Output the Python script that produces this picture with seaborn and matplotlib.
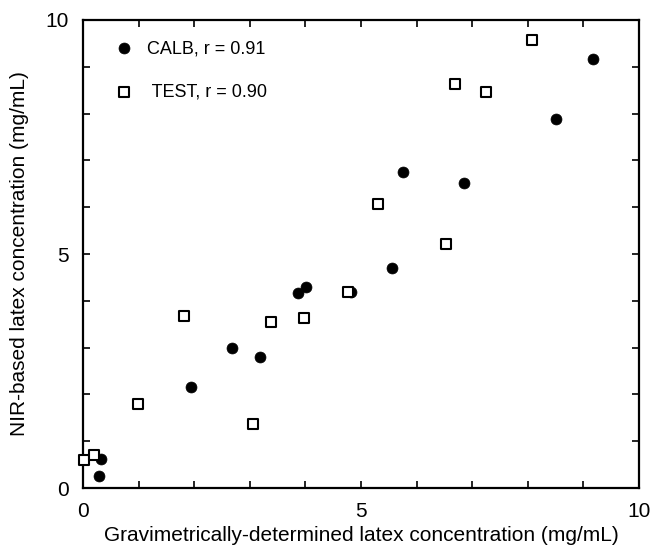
import matplotlib
matplotlib.use("Agg")
import matplotlib.pyplot as plt
import seaborn as sns
import pandas as pd

# CALB set (filled circles)
calb_x = [0.28, 0.32, 1.95, 2.68, 3.18, 3.87, 4.01, 4.82, 5.55, 5.76, 6.86, 8.50, 9.18]
calb_y = [0.26, 0.61, 2.16, 2.99, 2.79, 4.16, 4.30, 4.18, 4.70, 6.75, 6.52, 7.88, 9.16]

# TEST set (open squares)
test_x = [0.01, 0.20, 0.99, 1.82, 3.05, 3.39, 3.97, 4.76, 5.31, 6.53, 6.69, 7.25, 8.07]
test_y = [0.60, 0.70, 1.79, 3.68, 1.37, 3.55, 3.63, 4.18, 6.07, 5.21, 8.63, 8.47, 9.57]

calb_label = "CALB, r = 0.91"
test_label = " TEST, r = 0.90"

sns.set_style("ticks")
plt.rcParams['font.family'] = ['Liberation Sans', 'DejaVu Sans']
plt.rcParams['text.color'] = 'black'
plt.rcParams['axes.labelcolor'] = 'black'
plt.rcParams['xtick.color'] = 'black'
plt.rcParams['ytick.color'] = 'black'

fig = plt.figure(figsize=(6.55, 5.58), dpi=100)
ax = fig.add_axes([0.1267, 0.1254, 0.9756 - 0.1267, 0.9642 - 0.1254])

calb = pd.DataFrame({"x": calb_x, "y": calb_y})
test = pd.DataFrame({"x": test_x, "y": test_y})

sns.scatterplot(data=calb, x="x", y="y", ax=ax, marker="o", s=62,
                color="black", edgecolor="black", linewidth=0.5,
                label=calb_label, zorder=3, clip_on=False)
sns.scatterplot(data=test, x="x", y="y", ax=ax, marker="s", s=50,
                facecolor="white", edgecolor="black", linewidth=1.5,
                label=test_label, zorder=4, clip_on=False)

ax.set_xlim(0, 10)
ax.set_ylim(0, 10)
ax.set_xticks([0, 5, 10])
ax.set_yticks([0, 5, 10])
ax.set_xticks(range(0, 11), minor=True)
ax.set_yticks(range(0, 11), minor=True)
ax.tick_params(which="both", direction="in", top=True, right=True,
               length=5, width=1.2, color="black")
ax.tick_params(which="major", labelsize=15, pad=10, labelcolor="black")
for sp in ax.spines.values():
    sp.set_visible(True)
    sp.set_linewidth(1.6)
    sp.set_color("black")

ax.set_xlabel("Gravimetrically-determined latex concentration (mg/mL)",
              fontsize=15, labelpad=4, color="black")
ax.set_ylabel("NIR-based latex concentration (mg/mL)", fontsize=15,
              labelpad=12, color="black")

ax.legend(loc="upper left", bbox_to_anchor=(0.034, 0.984), frameon=False,
          fontsize=13, labelspacing=1.45, handlelength=1.0,
          handletextpad=0.8, borderaxespad=0.3)

fig.savefig("out.png", dpi=100)
